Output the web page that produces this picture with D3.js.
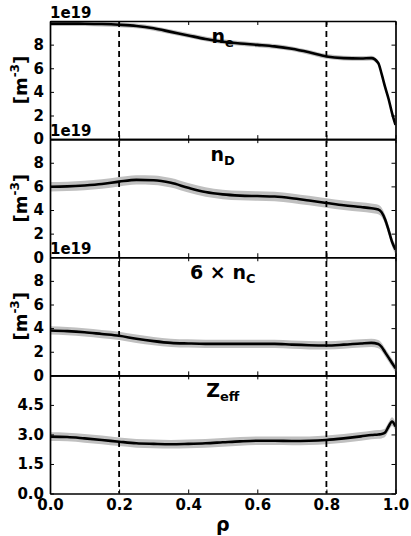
<!DOCTYPE html>
<html>
<head>
<meta charset="utf-8">
<script src="https://cdn.jsdelivr.net/npm/d3@7"></script>
<style>
  body { margin: 0; background: #fff; }
  text { font-family: "DejaVu Sans", sans-serif; font-weight: bold; fill: #000; }
</style>
</head>
<body>
<div id="chart"></div>
<script>
var svgWidth = 411;
var svgHeight = 536;

var margin = { top: 21, right: 15.5, bottom: 42.5, left: 50 };
var width = svgWidth - margin.left - margin.right;
var height = svgHeight - margin.top - margin.bottom;
var panelHeight = height / 4;

// radial grid shared by all profiles
var rho = [0, 0.05, 0.1, 0.15, 0.2, 0.25, 0.3, 0.35, 0.4, 0.45, 0.5, 0.55, 0.6, 0.65,
  0.7, 0.75, 0.8, 0.85, 0.9, 0.93, 0.95, 0.96, 0.97, 0.98, 0.99, 1.0];

// electron density [1e19 m^-3]
var neValues = [9.78, 9.78, 9.77, 9.74, 9.68, 9.58, 9.38, 9.08, 8.78, 8.48, 8.25, 8.1, 7.98, 7.85,
  7.65, 7.35, 7.0, 6.86, 6.83, 6.86, 6.45, 5.5, 4.4, 3.4, 2.2, 1.2];
var neErr = 0.2;

// deuterium density [1e19 m^-3]
var nDValues = [5.97, 6.0, 6.08, 6.2, 6.4, 6.55, 6.52, 6.3, 5.88, 5.52, 5.32, 5.22, 5.18, 5.14,
  5.0, 4.8, 4.6, 4.4, 4.25, 4.15, 4.05, 3.8, 3.2, 2.3, 1.3, 0.65];
var nDErr = 0.4;

// 6 x carbon density [1e19 m^-3]
var nCValues = [3.8, 3.75, 3.65, 3.5, 3.35, 3.1, 2.9, 2.75, 2.7, 2.67, 2.67, 2.67, 2.67, 2.67,
  2.6, 2.55, 2.53, 2.6, 2.7, 2.75, 2.65, 2.4, 1.95, 1.5, 1.05, 0.6];
var nCErr = 0.35;

// effective charge
var zeffValues = [2.89, 2.87, 2.8, 2.72, 2.63, 2.55, 2.52, 2.5, 2.52, 2.55, 2.6, 2.65, 2.68, 2.68,
  2.67, 2.68, 2.72, 2.8, 2.9, 2.97, 3.0, 3.02, 3.1, 3.4, 3.65, 3.4];
var zeffErr = 0.22;

var xTicks = [0, 0.2, 0.4, 0.6, 0.8, 1.0];
var densityTicks = [0, 2, 4, 6, 8];
var zeffTicks = [0, 1.5, 3.0, 4.5];
var markerRho = [0.2, 0.8];

var panels = [
  { values: neValues, err: neErr, domain: [0, 10], ticks: densityTicks, fmt: d3.format("d"),
    title: [["n", 0], ["e", 1]], offset: true, ylabel: true },
  { values: nDValues, err: nDErr, domain: [0, 10], ticks: densityTicks, fmt: d3.format("d"),
    title: [["n", 0], ["D", 1]], offset: true, ylabel: true },
  { values: nCValues, err: nCErr, domain: [0, 10], ticks: densityTicks, fmt: d3.format("d"),
    title: [["6 \u00d7 n", 0], ["C", 1]], offset: true, ylabel: true },
  { values: zeffValues, err: zeffErr, domain: [0, 6], ticks: zeffTicks, fmt: d3.format(".1f"),
    title: [["Z", 0], ["eff", 1]], offset: false, ylabel: false }
];

var svg = d3.select("#chart")
  .append("svg")
  .attr("width", svgWidth)
  .attr("height", svgHeight);

var chartGroup = svg.append("g")
  .attr("transform", `translate(${margin.left}, ${margin.top})`);

var xScale = d3.scaleLinear().domain([0, 1]).range([0, width]);

panels.forEach(function(p, i) {
  var top = i * panelHeight;
  var g = chartGroup.append("g").attr("transform", `translate(0, ${top})`);

  var yScale = d3.scaleLinear().domain(p.domain).range([panelHeight, 0]);

  var clipId = "clip" + i;
  g.append("clipPath").attr("id", clipId)
    .append("rect").attr("width", width).attr("height", panelHeight);

  var pts = rho.map((r, k) => ({ r: r, v: p.values[k] }));

  // uncertainty band
  var area = d3.area()
    .x(d => xScale(d.r))
    .y0(d => yScale(d.v - p.err))
    .y1(d => yScale(d.v + p.err))
    .curve(d3.curveMonotoneX);

  g.append("path")
    .datum(pts)
    .attr("clip-path", `url(#${clipId})`)
    .attr("d", area)
    .attr("fill", "#c0c0c0");

  var line = d3.line()
    .x(d => xScale(d.r))
    .y(d => yScale(d.v))
    .curve(d3.curveMonotoneX);

  g.append("path")
    .datum(pts)
    .attr("clip-path", `url(#${clipId})`)
    .attr("d", line)
    .attr("fill", "none")
    .attr("stroke", "#000")
    .attr("stroke-width", 2.6);

  // axes with inward ticks
  var leftAxis = d3.axisLeft(yScale).tickValues(p.ticks).tickFormat(p.fmt).tickSizeInner(-4).tickSizeOuter(0).tickPadding(6);
  var rightAxis = d3.axisRight(yScale).tickValues(p.ticks).tickFormat("").tickSizeInner(-4).tickSizeOuter(0);
  var bottomAxis = d3.axisBottom(xScale).tickValues(xTicks).tickSizeInner(-4).tickSizeOuter(0).tickPadding(6)
    .tickFormat(i === 3 ? d3.format(".1f") : "");
  var topAxis = d3.axisTop(xScale).tickValues(xTicks).tickFormat("").tickSizeInner(-4).tickSizeOuter(0);

  var axes = [
    g.append("g").call(leftAxis),
    g.append("g").attr("transform", `translate(${width}, 0)`).call(rightAxis),
    g.append("g").attr("transform", `translate(0, ${panelHeight})`).call(bottomAxis),
    g.append("g").call(topAxis)
  ];
  axes.forEach(function(a) {
    a.select(".domain").attr("stroke", "#000").attr("stroke-width", 1.7);
    a.selectAll(".tick line").attr("stroke", "#000").attr("stroke-width", 1);
    a.selectAll(".tick text").style("font-size", "15px").style("font-family", "DejaVu Sans").style("font-weight", "bold");
  });

  // panel title
  var t = g.append("text")
    .attr("x", xScale(0.5))
    .attr("y", 22)
    .attr("text-anchor", "middle")
    .style("font-size", "19px");
  p.title.forEach(function(part) {
    var s = t.append("tspan").text(part[0]);
    if (part[1]) s.attr("dy", 4).style("font-size", "13px");
  });

  // scale offset label
  if (p.offset) {
    g.append("text")
      .attr("x", 0)
      .attr("y", -3)
      .style("font-size", "15px")
      .text("1e19");
  }

  // y label
  if (p.ylabel) {
    var yl = g.append("text")
      .attr("transform", `translate(${-23}, ${panelHeight / 2}) rotate(-90)`)
      .attr("text-anchor", "middle")
      .style("font-size", "18px");
    yl.append("tspan").text("[m");
    yl.append("tspan").attr("dy", -8).style("font-size", "12px").text("-3");
    yl.append("tspan").attr("dy", 8).text("]");
  }
});

// dashed markers across all panels
chartGroup.selectAll(".marker")
  .data(markerRho)
  .enter()
  .append("line")
  .attr("class", "marker")
  .attr("x1", d => xScale(d))
  .attr("x2", d => xScale(d))
  .attr("y1", 0)
  .attr("y2", height)
  .attr("stroke", "#000")
  .attr("stroke-width", 1.8)
  .attr("stroke-dasharray", "6,4");

// x label
chartGroup.append("text")
  .attr("x", xScale(0.5))
  .attr("y", height + 37)
  .attr("text-anchor", "middle")
  .style("font-size", "19px")
  .text("\u03c1");
</script>
</body>
</html>
